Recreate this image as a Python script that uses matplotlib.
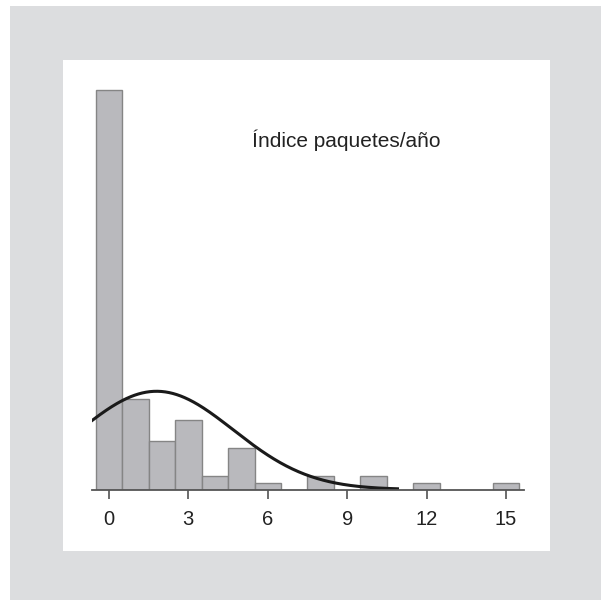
import numpy as np
import matplotlib.pyplot as plt
from matplotlib.patches import Rectangle

# Datos del histograma (indice paquetes/año)
valores = [0, 1, 2, 3, 4, 5, 6, 8, 10, 12, 15]
frecuencias = [57, 13, 7, 10, 2, 6, 1, 2, 2, 1, 1]
ticks = [0, 3, 6, 9, 12, 15]
titulo = "Índice paquetes/año"

# Ajuste normal
mu = 1.8
sigma = 2.9
x_curva = (-0.65, 10.9)

plt.rcParams['font.family'] = ['Liberation Sans', 'DejaVu Sans']

fig = plt.figure(figsize=(6.01, 6.0), dpi=100)
fig.patch.set_facecolor('white')
fig.patches.append(Rectangle((10/601, 0), 1 - 10/601, 594/600, transform=fig.transFigure,
                             facecolor='#dcdddf', edgecolor='none', zorder=-2))
fig.patches.append(Rectangle((63/601, 49/600), 487/601, 491/600, transform=fig.transFigure,
                             facecolor='white', edgecolor='none', zorder=-1))

ax = fig.add_axes([91.7/601, 110.5/600, 432.3/601, 429.5/600])
ax.set_facecolor('none')

ax.bar(valores, frecuencias, width=1.0, color='#b9b9bd', edgecolor='#858585', linewidth=1.0, zorder=2)

n = sum(frecuencias)
xs = np.linspace(x_curva[0], x_curva[1], 400)
ys = n / (sigma * np.sqrt(2 * np.pi)) * np.exp(-(xs - mu) ** 2 / (2 * sigma ** 2))
ax.plot(xs, ys, color='#1a1a1a', linewidth=2.2, zorder=3)

ax.set_xlim(-0.65, 15.68)
ax.set_ylim(0, 429.5 / 7.0)
for s in ['top', 'right', 'left']:
    ax.spines[s].set_visible(False)
ax.spines['bottom'].set_color('#555555')
ax.spines['bottom'].set_linewidth(1.3)
ax.spines['bottom'].set_zorder(4)
ax.set_yticks([])
ax.set_xticks(ticks)
ax.set_xticklabels([str(t) for t in ticks])
ax.tick_params(axis='x', direction='out', length=6.5, width=1.1, color='#444444',
               labelsize=14.5, labelcolor='#222222', pad=8)

fig.text(251.7/601, (600 - 146.7)/600, titulo, fontsize=15, color='#222222',
         ha='left', va='baseline')

fig.savefig('out.png', dpi=100, facecolor=fig.get_facecolor())
